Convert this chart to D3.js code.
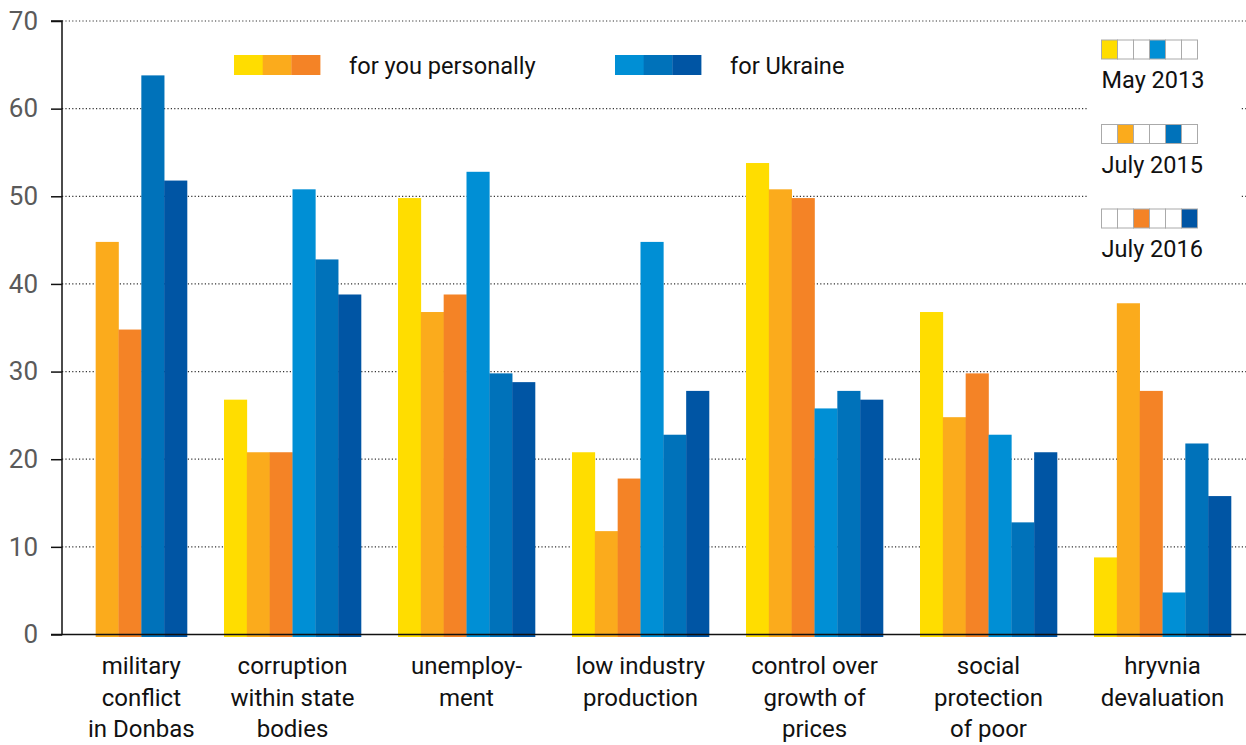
<!DOCTYPE html>
<html>
<head>
<meta charset="utf-8">
<script src="https://cdn.jsdelivr.net/npm/d3@7"></script>
<style>
  html, body { margin: 0; padding: 0; background: #fff; }
  svg { display: block; font-family: Roboto, "Noto Sans", sans-serif; }
</style>
</head>
<body>
<svg id="chart" width="1246" height="745"></svg>
<script>
// ---- data ----
const categories = [
  "military conflict in Donbas",
  "corruption within state bodies",
  "unemployment",
  "low industry production",
  "control over growth of prices",
  "social protection of poor",
  "hryvnia devaluation"
];
const categoryLines = [
  ["military", "conflict", "in Donbas"],
  ["corruption", "within state", "bodies"],
  ["unemploy-", "ment"],
  ["low industry", "production"],
  ["control over", "growth of", "prices"],
  ["social", "protection", "of poor"],
  ["hryvnia", "devaluation"]
];
const seriesNames = [
  "personal May 2013", "personal July 2015", "personal July 2016",
  "Ukraine May 2013", "Ukraine July 2015", "Ukraine July 2016"
];
const seriesColors = ["#FFDD00", "#FBAB1C", "#F48326", "#008FD5", "#0072BA", "#0055A4"];
const personalMay2013  = [null, 27, 50, 21, 54, 37, 9];
const personalJuly2015 = [45, 21, 37, 12, 51, 25, 38];
const personalJuly2016 = [35, 21, 39, 18, 50, 30, 28];
const ukraineMay2013   = [null, 51, 53, 45, 26, 23, 5];
const ukraineJuly2015  = [64, 43, 30, 23, 28, 13, 22];
const ukraineJuly2016  = [52, 39, 29, 28, 27, 21, 16];
const seriesValues = [personalMay2013, personalJuly2015, personalJuly2016,
                      ukraineMay2013, ukraineJuly2015, ukraineJuly2016];
const yTicks = [0, 10, 20, 30, 40, 50, 60, 70];
const legendGroups = [
  { label: "for you personally", series: [0, 1, 2] },
  { label: "for Ukraine", series: [3, 4, 5] }
];
const periodLegend = [
  { label: "May 2013", series: [0, 3] },
  { label: "July 2015", series: [1, 4] },
  { label: "July 2016", series: [2, 5] }
];

// ---- layout ----
const W = 1246, H = 745;
const plotLeft = 62, plotRight = 1246, plotTop = 21, plotBottom = 634.5;
const barShift = 1.8;
const svg = d3.select("#chart");

const y = d3.scaleLinear().domain([0, 70]).range([plotBottom, plotTop]);
const x = d3.scaleBand().domain(categories).range([31.5, 1249.5])
  .paddingInner(37 / 174).paddingOuter(37 / 348);
const xs = d3.scaleBand().domain(d3.range(seriesNames.length)).range([0, x.bandwidth()]);

// gridlines
svg.append("g").selectAll("line").data(yTicks.filter(t => t > 0)).join("line")
  .attr("x1", plotLeft).attr("x2", plotRight)
  .attr("y1", d => y(d)).attr("y2", d => y(d))
  .attr("stroke", "#333").attr("stroke-width", 1.2)
  .attr("stroke-dasharray", "1.2,2.2");

// right legend background
svg.append("rect").attr("x", 1088).attr("y", 30).attr("width", 152).attr("height", 244)
  .attr("fill", "#fff");

// bars
const groups = svg.append("g").selectAll("g").data(categories).join("g")
  .attr("transform", d => `translate(${x(d)},0)`);

const barData = (ci) => {
  const present = seriesValues.map((s, si) => ({ si, v: s[ci] })).filter(d => d.v != null);
  const shift = seriesNames.length - present.length;
  return present.map((d, k) => ({ ...d, slot: k + shift }));
};

groups.each(function (cat, ci) {
  const g = d3.select(this);
  const bars = barData(ci);
  g.selectAll("rect").data(bars).join("rect")
    .attr("x", d => xs(d.slot))
    .attr("width", xs.bandwidth() + 0.3)
    .attr("y", d => y(d.v) + barShift)
    .attr("height", d => y(0) + 2.5 - y(d.v) - barShift)
    .attr("fill", d => seriesColors[d.si]);
  const cx = (xs(bars[0].slot) + xs(bars[bars.length - 1].slot) + xs.bandwidth()) / 2;
  const t = g.append("text").attr("text-anchor", "middle")
    .attr("font-size", 24).attr("fill", "#111");
  categoryLines[ci].forEach((line, li) => {
    t.append("tspan").attr("x", cx).attr("y", 674 + li * 31.5).text(line);
  });
});

// axes
const yAxis = d3.axisLeft(y).tickValues(yTicks).tickSize(11).tickPadding(13);
const ya = svg.append("g").attr("transform", `translate(${plotLeft},0)`).call(yAxis);
ya.select(".domain").attr("stroke", "#111").attr("stroke-width", 1.5)
  .attr("d", `M-11,${plotTop}H0V${plotBottom}H-11`);
ya.selectAll(".tick line").attr("stroke", "#111").attr("stroke-width", 1.5);
ya.selectAll(".tick text").attr("font-size", 26).attr("fill", "#5a5a5a")
  .attr("font-family", "Roboto, sans-serif");

svg.append("line").attr("x1", plotLeft).attr("x2", plotRight)
  .attr("y1", y(0)).attr("y2", y(0)).attr("stroke", "#111").attr("stroke-width", 1.5);

// top legend
const legX = [234, 615];
legendGroups.forEach((lg, i) => {
  const g = svg.append("g").attr("transform", `translate(${legX[i]},55)`);
  g.selectAll("rect").data(lg.series).join("rect")
    .attr("x", (d, k) => k * 28.7).attr("y", 0)
    .attr("width", 29).attr("height", 20)
    .attr("fill", d => seriesColors[d]);
  g.append("text").attr("x", 115).attr("y", 18.5)
    .attr("font-size", 23.6).attr("fill", "#111").text(lg.label);
});

// period legend
periodLegend.forEach((pl, i) => {
  const g = svg.append("g").attr("transform", `translate(1101.5,${40 + i * 84.5})`);
  g.selectAll("rect").data(d3.range(seriesNames.length)).join("rect")
    .attr("x", d => d * 16).attr("y", 0).attr("width", 16).attr("height", 19)
    .attr("fill", d => pl.series.includes(d) ? seriesColors[d] : "#fff")
    .attr("stroke", "#aaa").attr("stroke-width", 1);
  g.selectAll("rect").filter(d => pl.series.includes(d)).raise();
  g.append("text").attr("x", 0).attr("y", 48)
    .attr("font-size", 23.5).attr("fill", "#111").text(pl.label);
});
</script>
</body>
</html>
